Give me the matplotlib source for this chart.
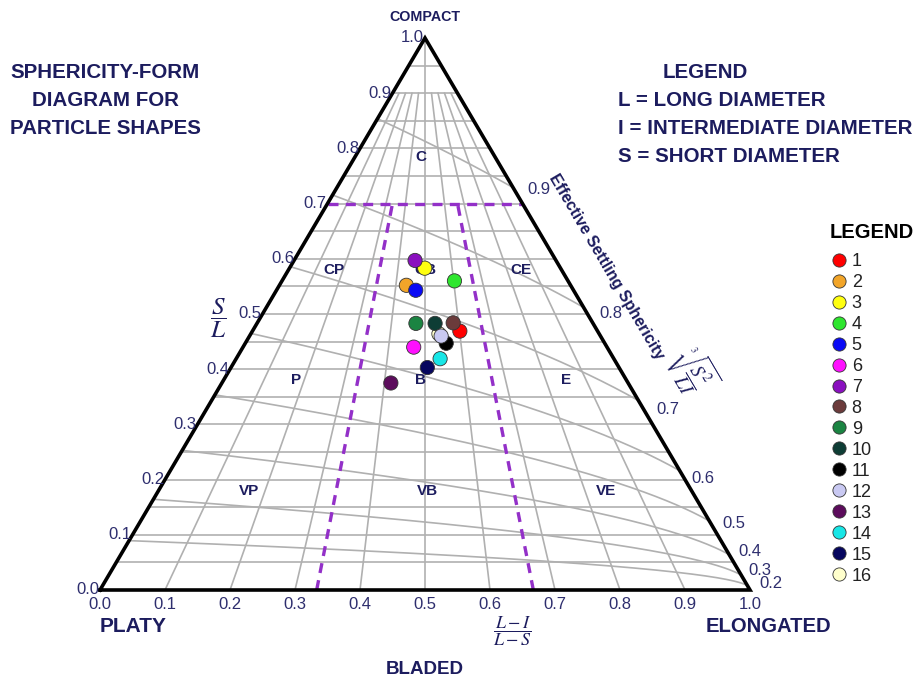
import numpy as np
import matplotlib
matplotlib.use('Agg')
import matplotlib.pyplot as plt
from matplotlib.lines import Line2D

plt.rcParams['font.family'] = ['Liberation Sans', 'DejaVu Sans']
plt.rcParams['mathtext.fontset'] = 'stix'

NAVY = '#1c1c5e'
TICK = '#2e2e6e'
GRID = '#b0b0b0'

# sample shape ratios: S/L and (L-I)/(L-S)
sample_ids = [str(i) for i in range(1, 17)]
s_over_l = [0.469, 0.552, 0.583, 0.560, 0.543, 0.440, 0.597, 0.484,
            0.483, 0.483, 0.447, 0.460, 0.375, 0.419, 0.403, 0.464]
form_idx = [0.601, 0.436, 0.499, 0.603, 0.469, 0.469, 0.462, 0.584,
            0.473, 0.530, 0.559, 0.546, 0.416, 0.540, 0.506, 0.540]
sample_colors = ['#ff0000', '#f2a529', '#ffff10', '#2ee62e', '#0a0af5',
                 '#ff10ff', '#8a10bf', '#6b3b3b', '#1b8442', '#0e3d35',
                 '#000000', '#c9c9f2', '#5c0c5c', '#18e6e6', '#06065e',
                 '#ffffcc']

# grid definition
sl_ticks = np.round(np.arange(0, 1.01, 0.1), 1)
form_ticks = np.round(np.arange(0, 1.01, 0.1), 1)
sl_grid = np.round(np.arange(0.05, 0.96, 0.05), 2)
psi_levels = [0.9, 0.8, 0.7, 0.6, 0.5, 0.4, 0.3, 0.2]
# label nudges (pixels right, pixels down) for the sphericity scale
psi_nudge = [(14, 2), (16, 6), (18, 9), (12, 8), (13, 2), (9, -3), (7, -5), (12, -2)]

region_names = ['C', 'CP', 'CB', 'CE', 'P', 'B', 'E', 'VP', 'VB', 'VE']
region_form = [0.47, 0.165, 0.50, 0.85, 0.18, 0.49, 0.85, 0.17, 0.505, 0.84]
region_sl = [0.785, 0.58, 0.58, 0.58, 0.38, 0.38, 0.38, 0.18, 0.18, 0.18]

H = 552 / 650  # triangle height relative to base
PX = 1 / 650   # one pixel in data units


def tri(p, s):
    p = np.asarray(p, dtype=float)
    s = np.asarray(s, dtype=float)
    return p * (1 - s) + 0.5 * s, s * H


W, Hpx = 918, 683
fig = plt.figure(figsize=(W / 100, Hpx / 100), dpi=100)
ax = fig.add_axes([0, 0, 1, 1])
ax.set_xlim(-100 * PX, (W - 100) * PX)
ax.set_ylim(-(Hpx - 590) * PX, 590 * PX)
ax.axis('off')


def fx(px):
    return px / W


def fy(py):
    return 1 - py / Hpx


def dx(px):
    return (px - 100) * PX


def dy(py):
    return (590 - py) * PX


# horizontal S/L lines
for s in sl_grid:
    x, y = tri([0, 1], [s, s])
    ax.plot(x, y, color=GRID, lw=1.2, zorder=1)

# form index lines towards the apex
for p in form_ticks[1:-1]:
    top = 1.0 if abs(p - 0.5) < 1e-9 else 0.9
    x, y = tri([p, p], [0, top])
    ax.plot(x, y, color=GRID, lw=1.2, zorder=1)

# effective settling sphericity curves
pp = np.linspace(0, 1, 300)
for psi in psi_levels:
    c = psi ** 3
    s = (c * pp + np.sqrt((c * pp) ** 2 + 4 * c * (1 - pp))) / 2
    x, y = tri(pp, s)
    ax.plot(x, y, color=GRID, lw=1.2, zorder=1)

# class boundaries
dash = dict(color='#9330c8', lw=2.4, dashes=(3, 2.2), zorder=2)
x, y = tri([0, 1], [0.7, 0.7])
ax.plot(x, y, **dash)
for p in [1 / 3, 2 / 3]:
    x, y = tri([p, p], [0, 0.7])
    ax.plot(x, y, **dash)

# triangle outline
x, y = tri([0, 1, 0.5, 0], [0, 0, 1, 0])
ax.plot(x, y, color='black', lw=2.6, solid_joinstyle='miter', zorder=3)

# tick labels
for v in sl_ticks:
    x, y = tri(0, v)
    ax.text(x - 1 * PX, y, f'{v:.1f}', ha='right', va='center',
            fontsize=12, color=TICK)
for v in form_ticks:
    x, y = tri(v, 0)
    ax.text(x, y - 7 * PX, f'{v:.1f}', ha='center', va='top',
            fontsize=12, color=TICK)
for psi, (nx, ny) in zip(psi_levels, psi_nudge):
    x, y = tri(1, psi ** 3)
    ax.text(x + nx * PX, y - ny * PX, f'{psi:.1f}', ha='left',
            va='center', fontsize=12, color=TICK)

# class names
for name, p, s in zip(region_names, region_form, region_sl):
    x, y = tri(p, s)
    ax.text(x, y, name, ha='center', va='center', fontsize=11,
            fontweight='bold', color=NAVY, zorder=4)

# samples (no. 16 sits underneath no. 12)
order = [15] + list(range(15))
x, y = tri(np.take(form_idx, order), np.take(s_over_l, order))
ax.scatter(x, y, s=105, c=[sample_colors[i] for i in order],
           edgecolors='#333333', linewidths=0.6, zorder=5)

# axis captions
ax.text(dx(218), dy(318), r'$\dfrac{S}{L}$', ha='center', va='center',
        fontsize=18, color=NAVY)
ax.text(dx(512), dy(631), r'$\dfrac{L-I}{L-S}$', ha='center', va='center',
        fontsize=13, color=NAVY)
ang = np.degrees(np.arctan2(-552, 325))
ax.text(dx(606), dy(267), 'Effective Settling Sphericity',
        rotation=ang, rotation_mode='anchor', ha='center', va='center',
        fontsize=11.5, fontweight='bold', color=NAVY)
ax.text(dx(691), dy(372), r'$\sqrt[3]{\dfrac{S^2}{LI}}$',
        rotation=ang, rotation_mode='anchor', ha='center', va='center',
        fontsize=14, color=NAVY)

# corner names
bold = dict(fontweight='bold', color=NAVY, ha='center', va='center')
fig.text(fx(425), fy(17), 'COMPACT', fontsize=10.3, **bold)
fig.text(fx(133), fy(626), 'PLATY', fontsize=15, **bold)
fig.text(fx(768), fy(626), 'ELONGATED', fontsize=14.6, **bold)
fig.text(fx(425), fy(669), 'BLADED', fontsize=13.5, **bold)

# headings
for i, line in enumerate(['SPHERICITY-FORM', 'DIAGRAM FOR', 'PARTICLE SHAPES']):
    fig.text(fx(105), fy(73 + 27.5 * i), line, fontsize=14.8, **bold)
fig.text(fx(705), fy(72), 'LEGEND', fontsize=14.8, **bold)
notes = ['L = LONG DIAMETER', 'I = INTERMEDIATE DIAMETER', 'S = SHORT DIAMETER']
for i, line in enumerate(notes):
    fig.text(fx(618), fy(100 + 28 * i), line, fontsize=14.8, fontweight='bold',
             color=NAVY, ha='left', va='center')

# sample legend
fig.text(fx(830), fy(232), 'LEGEND', fontsize=14.5, fontweight='bold',
         color='black', ha='left', va='center')
handles = [Line2D([], [], marker='o', ls='none', markersize=9.5,
                  markerfacecolor=c, markeredgecolor='#333333',
                  markeredgewidth=0.6) for c in sample_colors]
leg = fig.legend(handles, sample_ids, loc='upper left',
                 bbox_to_anchor=(fx(830), fy(253)), frameon=False,
                 fontsize=13, handlelength=1.0, handletextpad=0.2,
                 labelspacing=0.22, borderpad=0, borderaxespad=0)
for t in leg.get_texts():
    t.set_color('#222222')

fig.savefig('out.png', dpi=100)
